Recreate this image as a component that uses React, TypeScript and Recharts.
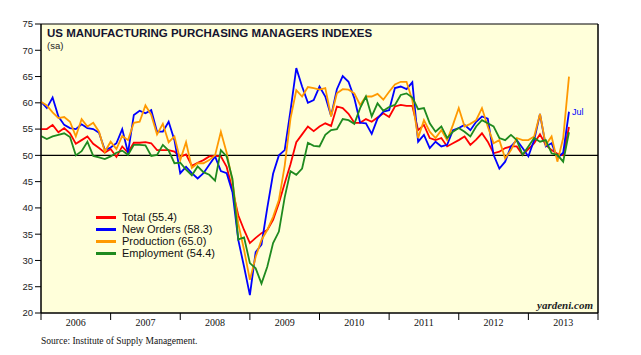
import React from 'react'
import { LineChart, Line, XAxis, YAxis, ReferenceLine, ReferenceArea } from 'recharts'

// monthly readings, Dec 2005 .. Jul 2013 (index = months after Dec 2005)
const total = [
  55.0, 55.0, 55.8, 54.4, 55.2, 54.2, 52.2, 52.9, 53.6, 52.2, 51.4, 50.5,
  51.2, 49.7, 51.7, 50.5, 52.4, 52.4, 52.5, 52.3, 51.0, 51.0, 51.0, 50.7,
  49.7, 50.2, 48.0, 48.6, 49.1, 49.8, 49.9, 49.8, 47.8, 43.4, 38.6, 35.8,
  33.3, 34.3, 35.2, 35.8, 37.7, 40.9, 44.7, 48.3, 52.5, 54.0, 55.5, 54.6,
  55.5, 56.1, 55.6, 59.3, 59.0, 57.9, 56.2, 56.2, 56.9, 56.4, 57.2, 58.0,
  57.3, 59.3, 59.6, 59.4, 59.4, 54.8, 55.8, 53.3, 52.9, 53.3, 51.7, 52.3,
  52.9, 53.6, 52.0, 53.0, 54.2, 52.6, 50.4, 50.7, 51.4, 51.7, 51.7, 50.1,
  51.2, 52.3, 54.0, 52.0, 51.0, 50.3, 50.0, 55.4,
]
const newOrders = [
  60.2, 59.0, 61.0, 57.4, 55.8, 55.2, 55.0, 55.9, 55.2, 55.0, 54.3, 51.0,
  51.5, 52.3, 55.0, 50.5, 57.7, 58.5, 58.0, 58.6, 54.5, 54.5, 56.4, 52.9,
  46.6, 47.8, 46.6, 45.6, 46.6, 48.2, 49.8, 47.0, 46.6, 43.0, 33.9, 28.8,
  23.4, 31.6, 33.0, 40.0, 46.5, 50.0, 51.0, 58.5, 66.6, 63.1, 60.0, 60.5,
  63.1, 61.2, 57.5, 62.6, 65.1, 64.0, 60.9, 56.2, 56.1, 54.1, 57.0, 58.3,
  58.6, 62.8, 63.1, 62.6, 63.9, 52.6, 53.9, 51.4, 52.6, 51.7, 52.0, 54.8,
  55.2, 55.8, 54.8, 56.4, 57.4, 57.0, 50.1, 47.5, 48.8, 51.7, 52.9, 51.4,
  49.8, 52.9, 57.9, 51.7, 52.3, 49.5, 50.5, 58.3,
]
const production = [
  60.2, 59.5, 58.2, 57.1, 57.3, 56.4, 53.6, 56.9, 55.5, 56.2, 54.5, 50.7,
  52.6, 51.2, 53.7, 52.9, 56.2, 56.4, 59.5, 57.7, 54.0, 56.0, 52.5, 53.6,
  49.1, 52.5, 47.6, 48.5, 48.5, 49.1, 50.0, 54.5, 50.5, 45.0, 37.0, 32.0,
  26.3, 30.7, 33.9, 35.8, 38.3, 41.5, 48.0, 57.0, 62.4, 61.2, 63.0, 62.8,
  62.5, 62.8, 57.4, 61.8, 62.6, 62.5, 61.8, 59.6, 61.2, 61.2, 61.7, 60.6,
  62.1, 63.5, 64.0, 64.0, 60.5, 53.3, 56.7, 54.5, 53.3, 54.8, 52.9, 55.8,
  59.0, 55.5, 56.0, 56.7, 59.0, 55.5, 52.3, 52.9, 49.4, 51.0, 53.3, 52.9,
  52.9, 53.6, 57.9, 52.0, 53.6, 48.8, 53.3, 65.0,
]
const employment = [
  53.7, 53.1, 53.6, 53.9, 54.2, 53.5, 50.0, 50.8, 52.6, 49.9, 49.6, 49.3,
  49.8, 50.5, 50.9, 50.1, 52.0, 52.0, 51.9, 49.9, 50.1, 52.0, 50.9, 48.5,
  48.6, 47.3, 46.2, 47.9, 46.8, 46.3, 45.2, 51.0, 49.8, 45.5, 34.0, 34.4,
  29.5, 28.5, 25.6, 28.8, 33.3, 35.5, 42.0, 47.0, 46.3, 47.5, 52.4, 51.8,
  51.7, 53.9, 54.8, 55.0, 56.9, 56.7, 56.0, 59.0, 61.2, 57.4, 59.9, 58.5,
  59.2, 59.6, 61.5, 61.8, 61.0, 58.8, 59.0, 56.1, 54.5, 55.5, 53.3, 54.5,
  55.2, 54.5, 53.6, 55.5, 56.7, 56.1, 55.5, 53.3, 52.9, 53.9, 52.9, 50.1,
  51.7, 53.3, 52.6, 52.9, 50.4, 50.1, 48.8, 54.4,
]

const years = ['2006', '2007', '2008', '2009', '2010', '2011', '2012', '2013']
const yTicks = [20, 25, 30, 35, 40, 45, 50, 55, 60, 65, 70, 75]
const xTicks = [0, 12, 24, 36, 48, 60, 72, 84, 96]

const series = [
  { key: 'total', name: 'Total (55.4)', color: '#ff0000' },
  { key: 'newOrders', name: 'New Orders (58.3)', color: '#0000ff' },
  { key: 'production', name: 'Production (65.0)', color: '#ff9900' },
  { key: 'employment', name: 'Employment (54.4)', color: '#1f8a1f' },
]

const data = total.map((v, i) => ({
  t: i,
  total: v,
  newOrders: newOrders[i],
  production: production[i],
  employment: employment[i],
}))

const W = 641
const H = 355
const halfYear = (598 - 41) / 16

const sans = '"Liberation Sans", Arial, sans-serif'
const serif = '"Liberation Serif", "Times New Roman", serif'

// year label sits in the middle of each year, not on the tick
function YearTick(props: any) {
  const { x, y, payload } = props
  const idx = Math.round(payload.value / 12)
  if (idx >= years.length) return <g />
  return (
    <text x={x + halfYear} y={y} dy={4} textAnchor="middle" fontFamily={serif} fontSize={10} fill="#111">
      {years[idx]}
    </text>
  )
}

export default function App() {
  return (
    <div style={{ position: 'relative', width: W, height: H, background: '#fff' }}>
      <style>{'body{margin:0}'}</style>
      <LineChart width={W} height={H} data={data} margin={{ top: 24, right: 0, left: 0, bottom: 22 }}>
        <ReferenceArea yAxisId="left" x1={0} x2={96} y1={20} y2={75} fill="#ffffda" fillOpacity={1} stroke="#000" strokeWidth={1} />
        <XAxis
          dataKey="t"
          type="number"
          domain={[0, 96]}
          ticks={xTicks}
          height={20}
          tickSize={7}
          tick={<YearTick />}
          axisLine={{ stroke: '#000' }}
          tickLine={{ stroke: '#000' }}
          allowDataOverflow
        />
        <YAxis
          yAxisId="left"
          domain={[20, 75]}
          ticks={yTicks}
          width={41}
          tickSize={6}
          tickMargin={2}
          axisLine={{ stroke: '#000' }}
          tickLine={{ stroke: '#000' }}
          tick={{ fontSize: 9.5, fontFamily: sans, fill: '#222' }}
        />
        <YAxis
          yAxisId="right"
          orientation="right"
          domain={[20, 75]}
          ticks={yTicks}
          width={43}
          tickSize={6}
          tickMargin={3}
          axisLine={{ stroke: '#000' }}
          tickLine={{ stroke: '#000' }}
          tick={{ fontSize: 9.5, fontFamily: sans, fill: '#222' }}
        />
        <ReferenceLine yAxisId="left" y={50} stroke="#000" strokeWidth={1.2} />
        {series.map((s) => (
          <Line
            key={s.key}
            yAxisId="left"
            type="linear"
            dataKey={s.key}
            stroke={s.color}
            strokeWidth={1.8}
            dot={false}
            isAnimationActive={false}
          />
        ))}
      </LineChart>

      <div style={{ position: 'absolute', left: 47, top: 27, fontFamily: sans, fontWeight: 'bold', fontSize: 11.5, lineHeight: '12px', color: '#151530', whiteSpace: 'nowrap' }}>
        US MANUFACTURING PURCHASING MANAGERS INDEXES
      </div>
      <div style={{ position: 'absolute', left: 47, top: 40, fontFamily: sans, fontSize: 9.5, lineHeight: '11px', color: '#222' }}>
        (sa)
      </div>

      {series.map((s, i) => (
        <div key={s.key} style={{ position: 'absolute', left: 96, top: 211 + i * 12, height: 12, display: 'flex', alignItems: 'center', whiteSpace: 'nowrap' }}>
          <span style={{ display: 'inline-block', width: 20, height: 3, background: s.color, marginRight: 6 }} />
          <span style={{ fontFamily: sans, fontSize: 11, color: '#111' }}>{s.name}</span>
        </div>
      ))}

      <div style={{ position: 'absolute', left: 572, top: 107, fontFamily: sans, fontSize: 9, lineHeight: '11px', color: '#0000ff' }}>
        Jul
      </div>
      <div style={{ position: 'absolute', right: 48, top: 299, fontFamily: serif, fontStyle: 'italic', fontWeight: 'bold', fontSize: 11, lineHeight: '13px', color: '#222' }}>
        yardeni.com
      </div>
      <div style={{ position: 'absolute', left: 41, top: 335, fontFamily: serif, fontSize: 9.5, lineHeight: '12px', color: '#111', whiteSpace: 'nowrap' }}>
        Source: Institute of Supply Management.
      </div>
    </div>
  )
}
